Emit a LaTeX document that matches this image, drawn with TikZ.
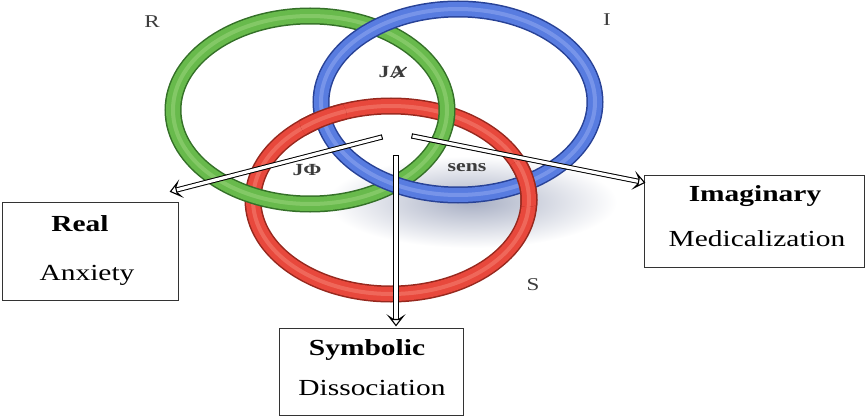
\documentclass[tikz,border=0pt]{standalone}
\usepackage{fontspec}
\setmainfont{Liberation Serif}
\usetikzlibrary{arrows.meta,calc,decorations.markings}
\definecolor{gmain}{RGB}{104,186,76}
\definecolor{gdark}{RGB}{52,112,40}
\definecolor{glight}{RGB}{150,210,120}
\definecolor{bmain}{RGB}{88,124,224}
\definecolor{bdark}{RGB}{40,66,150}
\definecolor{blight}{RGB}{140,165,240}
\definecolor{rmain}{RGB}{232,72,60}
\definecolor{rdark}{RGB}{150,40,30}
\definecolor{rlight}{RGB}{245,125,110}
\definecolor{lblgray}{RGB}{60,60,60}
\definecolor{shadowc}{RGB}{168,175,196}
\newcommand\hs[1]{\scalebox{1.28}[1]{#1}}
\newcommand\myring[6]{%
  \draw[line width=17pt,#5] (#1) ellipse [x radius=#2, y radius=#3];
  \draw[line width=14pt,#4] (#1) ellipse [x radius=#2, y radius=#3];
  \draw[line width=4pt,#6,opacity=0.6] (#1) ellipse [x radius=#2, y radius=#3];}
\begin{document}
\begin{tikzpicture}[x=1pt,y=-1pt,
  boxst/.style={draw=black!80, line width=0.9pt, minimum width=#1, inner sep=0pt},
  bigtxt/.style={font=\fontsize{23}{26}\selectfont, text=black, inner sep=0pt},
  smalltxt/.style={font=\fontsize{18}{20}\selectfont, text=lblgray, inner sep=0pt},
  midtxt/.style={font=\bfseries\fontsize{17}{19}\selectfont, text=lblgray, inner sep=0pt},
  dbl/.style={draw=black, double=white, double distance=3.2pt, line width=1pt},
  headmark/.style={postaction={decorate, decoration={markings,
    mark=at position 0.9999 with {\filldraw[fill=white, draw=black, line width=1.1pt, line join=miter]
        (-9pt,7pt) -- (0pt,0pt) -- (-9pt,-7pt) -- (-6pt,-2.6pt) -- (-6pt,2.6pt) -- cycle;},
    mark=at position 0.0001 with {\draw[black, line width=1pt] (0pt,-2.6pt) -- (0pt,2.6pt);}}}}]
\useasboundingbox (0,0) rectangle (866,417);
% shadow
\shade[inner color=shadowc, outer color=white] (472,202) ellipse [x radius=145, y radius=46];
% rings
\myring{391,200}{138}{94}{rmain}{rdark}{rlight}
\myring{310,110}{137}{94}{gmain}{gdark}{glight}
\myring{458,102}{137}{93}{bmain}{bdark}{blight}
\begin{scope}
  \clip (323,118) circle [radius=24pt];
  \myring{391,200}{138}{94}{rmain}{rdark}{rlight}
\end{scope}
\begin{scope}
  \clip (527,183) circle [radius=24pt];
  \myring{391,200}{138}{94}{rmain}{rdark}{rlight}
\end{scope}
% ring labels
\node[smalltxt] (lR) at (152,22) {\hs{R}};
\node[smalltxt] (lI) at (607,20) {\hs{I}};
\node[smalltxt] (lS) at (533,285) {\hs{S}};
\node[midtxt] (lJA) at (392,72) {\hs{JA}};
\draw[lblgray, line width=1.4pt] ($(lJA.south east)+(-12,0)$) -- ($(lJA.north east)+(1,1)$);
\node[midtxt] (lJP) at (307,170) {\hs{JΦ}};
\node[midtxt] (lsens) at (467,168) {\hs{sens}};
% boxes
\node[boxst=176pt, minimum height=98pt] (real) at (90,251) {};
\node[boxst=220pt, minimum height=92pt] (imag) at (754,221) {};
\node[boxst=184pt, minimum height=87pt] (sym) at (371,371.5) {};
\node[bigtxt] (realt) at (80,224) {\hs{\bfseries Real}};
\node[bigtxt] (reald) at (87,275) {\hs{Anxiety}};
\node[bigtxt] (imagt) at (755,196) {\hs{\bfseries Imaginary}};
\node[bigtxt] (imagd) at (757,239) {\hs{Medicalization}};
\node[bigtxt] (symt) at (367,350) {\hs{\bfseries Symbolic}};
\node[bigtxt] (symd) at (372,388) {\hs{Dissociation}};
% arrows
\coordinate (cL) at (382,137);
\coordinate (cR) at (412,136);
\coordinate (cD) at (396,155);
\coordinate (tL) at ([shift={(-8,-10)}]real.north east);
\coordinate (tR) at ([shift={(1,8)}]imag.north west);
\coordinate (tD) at ([shift={(25,-2)}]sym.north);
\draw[dbl] (cL) -- ($(tL)!6pt!(cL)$);
\draw[dbl] (cR) -- ($(tR)!6pt!(cR)$);
\draw[dbl] (cD) -- ($(tD)!6pt!(cD)$);
\path[headmark] (cL) -- (tL);
\path[headmark] (cR) -- (tR);
\path[headmark] (cD) -- (tD);
\end{tikzpicture}
\end{document}
